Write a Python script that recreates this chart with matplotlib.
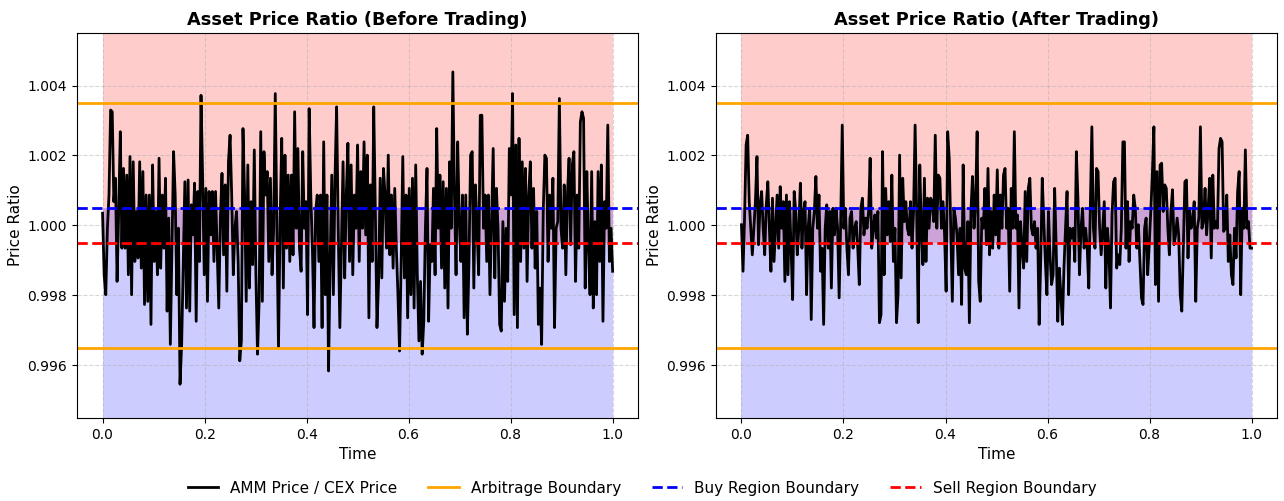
import numpy as np
import matplotlib
matplotlib.use("Agg")
import matplotlib.pyplot as plt
from matplotlib.ticker import FormatStrFormatter

# price ratio before trading
ratio_before = [
    1.00035, 0.99859, 0.99802, 0.99992, 1.00087, 1.00330, 1.00325, 1.00068, 1.00135, 0.99840,
    1.00040, 1.00268, 0.99935, 1.00163, 0.99935, 1.00144, 0.99859, 1.00197, 0.99802, 1.00182,
    0.99897, 1.00040, 0.99907, 1.00182, 0.99878, 1.00154, 0.99774, 1.00087, 0.99783, 1.00087,
    0.99717, 1.00173, 0.99897, 1.00040, 0.99859, 1.00192, 0.99878, 1.00087, 0.99935, 1.00135,
    0.99755, 1.00021, 0.99660, 0.99935, 1.00211, 1.00087, 0.99802, 0.99992, 0.99546, 0.99660,
    0.99897, 1.00125, 0.99764, 1.00130, 0.99755, 1.00059, 0.99973, 1.00121, 0.99726, 1.00097,
    0.99897, 1.00372, 1.00135, 0.99859, 1.00106, 0.99783, 1.00097, 0.99973, 1.00097, 0.99897,
    1.00097, 0.99935, 0.99764, 1.00021, 1.00149, 0.99916, 1.00116, 0.99812, 1.00182, 1.00258,
    1.00087, 0.99859, 0.99992,
    1.00040, 0.99897, 0.99613, 0.99670, 1.00277, 1.00087, 0.99783, 1.00173, 0.99821, 1.00068,
    0.99888, 1.00216, 0.99859, 0.99632, 0.99783, 1.00268, 0.99783, 1.00211, 1.00087, 1.00154,
    0.99897, 1.00135, 0.99859, 0.99992, 1.00377, 0.99992, 0.99651, 1.00011, 1.00249, 0.99821,
    1.00201, 0.99935, 1.00144, 0.99897, 1.00144, 0.99916, 1.00325, 0.99992, 1.00220, 0.99935,
    0.99869, 1.00211, 0.99992, 1.00068, 0.99745, 1.00334, 1.00087, 0.99935, 0.99708, 1.00040,
    1.00087, 0.99897, 1.00087, 0.99708, 1.00239, 0.99802, 1.00087, 0.99584, 0.99897, 1.00144,
    0.99802, 1.00135, 1.00339, 0.99992, 0.99708, 0.99945, 1.00182, 0.99850, 1.00087, 1.00235,
    0.99897, 1.00173, 0.99859, 1.00087, 0.99992, 1.00230, 0.99897, 1.00154, 0.99992, 1.00239,
    0.99973,
    1.00201, 0.99736, 1.00116, 0.99897, 1.00339, 1.00040, 0.99708, 0.99840, 1.00135, 0.99850,
    1.00163, 1.00087, 0.99935, 1.00201, 0.99916, 1.00087, 0.99878, 1.00106, 0.99935, 0.99802,
    0.99641, 0.99897, 1.00197, 0.99850, 1.00087, 0.99736, 1.00106, 0.99802, 1.00135, 0.99764,
    1.00173, 0.99859, 0.99670, 0.99840, 0.99632, 0.99726, 0.99992, 1.00163, 0.99726, 0.99945,
    0.99897, 1.00106, 0.99859, 1.00277, 0.99992, 1.00144, 0.99878, 1.00125, 0.99821, 1.00106,
    0.99764, 1.00182, 0.99992, 1.00439, 1.00087, 0.99859, 1.00239, 1.00011, 0.99897, 1.00087,
    0.99736, 1.00087, 0.99689, 0.99897, 1.00201, 1.00211, 0.99821, 1.00116, 0.99992, 0.99859,
    1.00315, 1.00315, 0.99992, 1.00087, 0.99897, 1.00087, 0.99802, 1.00011,
    1.00220, 0.99850, 1.00106, 0.99992, 0.99717, 0.99698, 1.00011, 0.99783, 0.99992, 0.99840,
    1.00220, 1.00087, 1.00377, 0.99745, 1.00230, 0.99708, 1.00249, 0.99897, 1.00182, 0.99935,
    1.00163, 0.99840, 1.00087, 1.00182, 0.99935, 1.00106, 0.99878, 1.00040, 0.99717, 0.99821,
    0.99660, 1.00040, 1.00201, 1.00192, 0.99897, 1.00087, 0.99992, 1.00135, 0.99708, 0.99992,
    1.00011, 1.00363, 0.99992, 0.99935, 1.00116, 0.99859, 1.00087, 1.00192, 0.99945, 1.00173,
    1.00211, 0.99840, 1.00087, 0.99935, 1.00296, 1.00325, 1.00306, 0.99821, 1.00154, 0.99935,
    0.99802, 1.00154, 0.99764, 1.00011, 0.99802, 1.00154, 0.99897, 1.00173, 0.99726, 1.00068,
    0.99992, 1.00287, 0.99897, 0.99992, 0.99869,
]

# price ratio after trading
ratio_after = [
    1.00002, 0.99869, 1.00021, 1.00230, 1.00258, 1.00068, 0.99992, 0.99916, 0.99992, 1.00068,
    1.00197, 0.99945, 1.00059, 1.00097, 0.99992, 0.99916, 1.00059, 1.00125, 0.99992, 0.99869,
    1.00078, 0.99897, 0.99992, 1.00087, 0.99935, 1.00111, 0.99992, 1.00068, 0.99840, 1.00087,
    0.99859, 1.00068, 0.99935, 0.99788, 1.00097, 1.00040, 0.99916, 0.99992, 1.00121, 0.99935,
    1.00040, 1.00068, 0.99802, 0.99992, 1.00049, 0.99731, 0.99992, 1.00040, 1.00140, 0.99992,
    1.00087, 0.99869, 0.99935, 0.99717, 0.99992, 1.00059, 0.99935, 1.00040, 0.99821, 1.00049,
    0.99973, 1.00049, 0.99992, 0.99793, 1.00011, 1.00287, 0.99992, 1.00049, 0.99935, 0.99859,
    1.00021, 1.00040, 0.99935, 0.99992, 1.00011, 0.99935, 0.99831, 1.00049, 1.00078, 0.99973,
    1.00021, 0.99992, 1.00040, 1.00192, 0.99935, 0.99992, 1.00030,
    0.99964, 1.00040, 0.99722, 0.99745, 1.00211, 0.99859, 1.00106, 0.99973, 1.00068, 0.99954,
    1.00144, 0.99897, 0.99992, 0.99722, 0.99802, 1.00201, 0.99850, 1.00135, 1.00011, 1.00068,
    0.99992, 0.99973, 1.00068, 0.99935, 1.00040, 1.00287, 1.00040, 0.99722, 1.00173, 0.99992,
    0.99888, 1.00135, 0.99897, 1.00078, 0.99992, 1.00078, 1.00068, 1.00011, 1.00258, 0.99992,
    1.00144, 1.00135, 0.99992, 1.00068, 0.99973, 0.99812, 1.00268, 1.00192, 0.99992, 0.99783,
    1.00049, 1.00021, 0.99973, 0.99859, 0.99992, 0.99774, 1.00173, 0.99878, 0.99859, 1.00011,
    0.99722, 1.00040, 1.00140, 0.99992, 1.00068, 1.00268, 0.99840, 0.99783, 1.00021, 0.99992,
    1.00106, 0.99945, 1.00163, 0.99916, 1.00040, 0.99935, 1.00087, 0.99973, 1.00159, 0.99935,
    1.00087, 0.99992, 1.00144, 1.00163, 0.99992,
    1.00049, 0.99812, 1.00106, 0.99992, 1.00268, 0.99992, 1.00030, 0.99764, 1.00011, 0.99935,
    0.99878, 1.00097, 0.99897, 1.00106, 1.00135, 0.99992, 0.99973, 1.00011, 0.99935, 0.99992,
    0.99717, 0.99897, 1.00135, 1.00011, 0.99897, 0.99802, 1.00040, 0.99916, 0.99831, 0.99859,
    1.00106, 0.99935, 0.99726, 0.99878, 0.99802, 0.99717, 0.99878, 0.99992, 1.00097, 0.99802,
    0.99992, 0.99964, 0.99992, 0.99897, 1.00211, 1.00078, 0.99859, 0.99992, 1.00049, 0.99935,
    0.99992, 0.99935, 0.99821, 1.00049, 1.00282, 0.99992, 0.99935, 1.00163, 1.00154, 0.99992,
    0.99916, 0.99992, 1.00068, 0.99821, 0.99992, 0.99935, 0.99764, 1.00030, 1.00125, 1.00135,
    0.99878, 0.99916, 0.99888, 0.99992, 1.00239, 1.00239, 0.99935, 1.00068, 0.99897, 1.00011,
    0.99992, 1.00087, 1.00049,
    0.99935, 1.00002, 0.99897, 0.99793, 0.99774, 0.99992, 1.00021, 0.99859, 0.99945, 1.00040,
    1.00144, 1.00282, 0.99831, 1.00154, 0.99783, 1.00173, 1.00178, 1.00040, 1.00116, 1.00106,
    0.99992, 0.99916, 1.00040, 1.00102, 0.99945, 0.99973, 1.00021, 0.99973, 0.99802, 0.99755,
    0.99935, 1.00125, 1.00130, 0.99907, 1.00049, 0.99992, 1.00011, 1.00068, 0.99783, 0.99992,
    1.00021, 1.00282, 0.99992, 1.00011, 1.00106, 0.99973, 1.00049, 1.00135, 0.99907, 1.00144,
    0.99992, 1.00011, 0.99992, 1.00220, 1.00249, 1.00239, 0.99983, 0.99992, 1.00087, 0.99897,
    0.99973, 0.99859, 0.99831, 0.99992, 0.99907, 1.00097, 1.00154, 0.99802, 1.00049, 0.99992,
    1.00216, 0.99992, 1.00011, 0.99935, 0.99935,
]

arb_upper = 1.0035
arb_lower = 0.9965
buy_boundary = 1.0005
sell_boundary = 0.9995
y_low, y_high = 0.9945, 1.0055

titles = ["Asset Price Ratio (Before Trading)", "Asset Price Ratio (After Trading)"]

fig = plt.figure(figsize=(12.84, 5.01), dpi=100)
ax1 = fig.add_axes([0.060, 0.166, 0.437, 0.768])
ax2 = fig.add_axes([0.5576, 0.166, 0.437, 0.768])

for ax, series, title in zip([ax1, ax2], [ratio_before, ratio_after], titles):
    t = np.linspace(0, 1, len(series))
    ax.fill_between(t, sell_boundary, y_high, color="red", alpha=0.2, linewidth=0)
    ax.fill_between(t, y_low, buy_boundary, color="blue", alpha=0.2, linewidth=0)
    ax.plot(t, series, color="black", linewidth=2.0, label="AMM Price / CEX Price")
    ax.axhline(arb_upper, color="orange", linewidth=2, label="Arbitrage Boundary")
    ax.axhline(arb_lower, color="orange", linewidth=2)
    ax.axhline(buy_boundary, color="blue", linestyle="--", linewidth=2, label="Buy Region Boundary")
    ax.axhline(sell_boundary, color="red", linestyle="--", linewidth=2, label="Sell Region Boundary")
    ax.set_ylim(y_low, y_high)
    ax.set_xticks([0.0, 0.2, 0.4, 0.6, 0.8, 1.0])
    ax.set_yticks([0.996, 0.998, 1.000, 1.002, 1.004])
    ax.yaxis.set_major_formatter(FormatStrFormatter("%.3f"))
    ax.grid(True, linestyle="--", alpha=0.5)
    ax.set_title(title, fontsize=12.8, fontweight="bold")
    ax.set_xlabel("Time", fontsize=11)
    ax.set_ylabel("Price Ratio", fontsize=11, labelpad=3)

handles, labels = ax1.get_legend_handles_labels()
fig.legend(handles, labels, loc="lower center", ncol=4, frameon=False,
           fontsize=11, bbox_to_anchor=(0.5, -0.017), columnspacing=2.0)

plt.savefig("out.png", dpi=100)
